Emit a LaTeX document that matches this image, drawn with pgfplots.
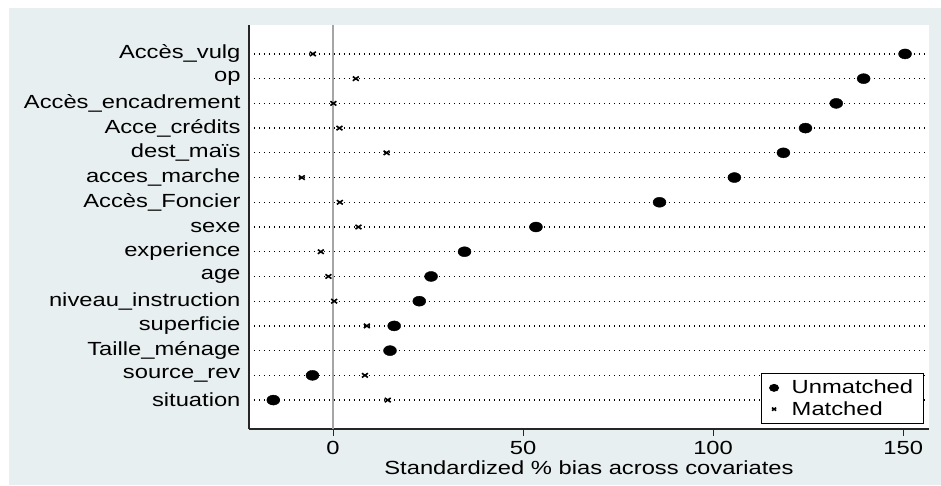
\documentclass[border=0pt]{standalone}
\usepackage{pgfplots}
\pgfplotsset{compat=1.18}
\usepackage{fontspec}
\setmainfont{Liberation Sans}[FakeStretch=1.25]
\definecolor{stbg}{RGB}{232,239,241}

\begin{document}
\begin{tikzpicture}
% page and Stata-style graph region
\useasboundingbox (-249pt,-57pt) rectangle (692pt,429pt);
\fill[white] (-249pt,-57pt) rectangle (692pt,429pt);
\fill[stbg] (-240pt,-56pt) rectangle (692pt,421pt);
\begin{axis}[
    scale only axis,
    width=680pt, height=404pt,
    axis background/.style={fill=white},
    axis lines*=left,
    axis line style={black!85, line width=1.2pt},
    xmin=-22.1, xmax=156.8,
    ymin=-0.17, ymax=16.17,
    y dir=reverse,
    xtick={0,50,100,150},
    ytick={1,...,15},
    yticklabels={Accès\_vulg, op, Accès\_encadrement, Acce\_crédits, dest\_maïs,
        acces\_marche, Accès\_Foncier, sexe, experience, age,
        niveau\_instruction, superficie, Taille\_ménage, source\_rev, situation},
    tick align=outside,
    xtick pos=bottom,
    major tick length=7pt,
    xtick style={black!85, line width=1pt},
    ytick style={draw=none},
    ymajorgrids,
    major grid style={black, line width=1.3pt, dash pattern=on 1.3pt off 3.7pt},
    tick label style={font=\fontsize{19}{22}\selectfont},
    /pgf/number format/assume math mode=true,
    yticklabel style={xshift=2pt},
    xticklabel style={yshift=-2pt},
    xlabel={Standardized \% bias across covariates},
    xlabel style={font=\fontsize{19}{22}\selectfont, yshift=1pt},
    legend style={at={(rel axis cs:0.992,0.012)}, anchor=south east,
        draw=black, line width=0.8pt, fill=white,
        font=\fontsize{19}{23}\selectfont, inner xsep=8pt, inner ysep=5pt,
        row sep=2pt},
    legend cell align=left,
    legend image code/.code={
        \path[draw=none] (-0.1cm,0cm) -- (0.55cm,0cm);
        \draw[every mark/.append style={scale=0.7}] plot coordinates {(0cm,0cm)};},
]
% reference line at zero
\addplot[gray!70, line width=2pt, forget plot] coordinates {(0,-0.17) (0,16.17)};

\addplot[only marks, mark=*, mark size=5pt, mark options={fill=black, draw=black, xscale=1.3}]
    coordinates {
    (150.5,1) (139.6,2) (132.4,3) (124.3,4) (118.5,5)
    (105.6,6) (85.9,7) (53.4,8) (34.6,9) (25.8,10)
    (22.7,11) (16.1,12) (15.0,13) (-5.4,14) (-15.7,15)
    };
\addlegendentry{Unmatched}

\addplot[only marks, mark=x, mark size=3pt, mark options={black, line width=1.6pt, xscale=1.4}]
    coordinates {
    (-5.3,1) (6.0,2) (0.1,3) (1.7,4) (14.1,5)
    (-8.2,6) (1.8,7) (6.7,8) (-3.2,9) (-1.2,10)
    (0.3,11) (8.9,12) (15.0,13) (8.4,14) (14.4,15)
    };
\addlegendentry{Matched}
\end{axis}
\end{tikzpicture}
\end{document}
